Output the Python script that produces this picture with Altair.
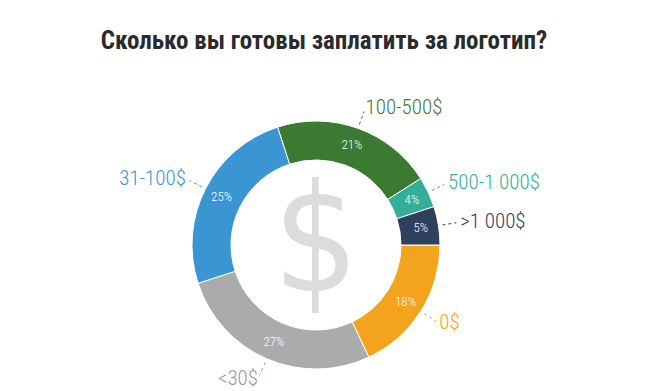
import math
import altair as alt
import pandas as pd

# ---- data ----
categories = ["0$", "<30$", "31-100$", "100-500$", "500-1 000$", ">1 000$"]
percents = [18, 27, 25, 21, 4, 5]
slice_colors = ["#f4a41c", "#ababab", "#3a96d3", "#3a7a31", "#35ae97", "#2f405d"]
label_colors = ["#f0a21c", "#9a9a9a", "#3a96d3", "#3a7a31", "#35ae97", "#2f405d"]
title_text = "Сколько вы готовы заплатить за логотип?"
center_symbol = "$"

df = pd.DataFrame({
    "idx": list(range(len(categories))),
    "cat": categories,
    "pct": percents,
})
df["pct_label"] = [f"{p}%" for p in percents]

CX, CY = 316, 245          # donut centre (layout)
R_OUT, R_IN = 124, 85
START = math.pi / 2        # first slice starts at 3 o'clock

LABEL_FONT = "Roboto Condensed, Liberation Sans Narrow, DejaVu Sans Condensed, sans-serif"

base = alt.Chart(df).transform_window(
    cum="sum(pct)", sort=[alt.SortField("idx")], frame=[None, 0]
).transform_calculate(
    mid=f"(datum.cum - datum.pct/2)/100*2*PI + {START}"
).transform_calculate(
    sx="sin(datum.mid)", cy_="cos(datum.mid)"
)

color_scale = alt.Scale(domain=categories, range=slice_colors)
label_scale = alt.Scale(domain=categories, range=label_colors)

arcs = alt.Chart(df).mark_arc(
    outerRadius=R_OUT, innerRadius=R_IN, stroke="white", strokeWidth=1
).encode(
    theta=alt.Theta("pct:Q", stack=True,
                    scale=alt.Scale(range=[START, START + 2 * math.pi])),
    color=alt.Color("cat:N", scale=color_scale, legend=None),
    order=alt.Order("idx:Q"),
    x=alt.value(CX), y=alt.value(CY),
)

dollar = alt.Chart(pd.DataFrame({"t": [center_symbol]})).mark_text(
    fontSize=150, font="Liberation Sans Narrow, DejaVu Sans Condensed, sans-serif",
    color="#dcdcdc", baseline="middle", align="center", dy=1
).encode(text="t:N", x=alt.value(CX), y=alt.value(CY))

pct_text = base.transform_calculate(
    px=f"{CX} + 106*datum.sx", py=f"{CY} - 106*datum.cy_"
).mark_text(
    color="white", fontSize=13, font=LABEL_FONT, fontWeight=300,
    baseline="middle", align="center"
).encode(
    x=alt.X("px:Q", scale=None), y=alt.Y("py:Q", scale=None), text="pct_label:N"
)

leaders = base.transform_calculate(
    x1=f"{CX} + 128*datum.sx", y1=f"{CY} - 128*datum.cy_",
    x2=f"{CX} + 142*datum.sx", y2=f"{CY} - 142*datum.cy_",
).mark_rule(strokeDash=[3, 3], strokeWidth=1).encode(
    x=alt.X("x1:Q", scale=None), y=alt.Y("y1:Q", scale=None),
    x2="x2:Q", y2="y2:Q",
    color=alt.Color("cat:N", scale=label_scale, legend=None),
)

lab_base = base.transform_calculate(
    lx=f"{CX} + 146*datum.sx", ly=f"{CY} - 146*datum.cy_"
)
labels_right = lab_base.transform_filter("datum.sx >= 0").mark_text(
    align="left", baseline="middle", fontSize=21, font=LABEL_FONT, fontWeight=300
).encode(
    x=alt.X("lx:Q", scale=None), y=alt.Y("ly:Q", scale=None), text="cat:N",
    color=alt.Color("cat:N", scale=label_scale, legend=None),
)
labels_left = lab_base.transform_filter("datum.sx < 0").mark_text(
    align="right", baseline="middle", fontSize=21, font=LABEL_FONT, fontWeight=300
).encode(
    x=alt.X("lx:Q", scale=None), y=alt.Y("ly:Q", scale=None), text="cat:N",
    color=alt.Color("cat:N", scale=label_scale, legend=None),
)

chart = alt.layer(
    arcs, dollar, pct_text, leaders, labels_right, labels_left
).properties(
    width=648, height=391, autosize="none", padding=0,
    title=alt.Title(
        title_text, anchor="middle", orient="top", offset=-54,
        fontSize=25, fontWeight="bold", color="#2b2b2b",
        font="Roboto Condensed, Liberation Sans Narrow, DejaVu Sans Condensed, sans-serif",
    ),
).configure_view(stroke=None).resolve_scale(color="independent")

chart.save("out.html", embed_options={"renderer": "svg", "actions": False})
